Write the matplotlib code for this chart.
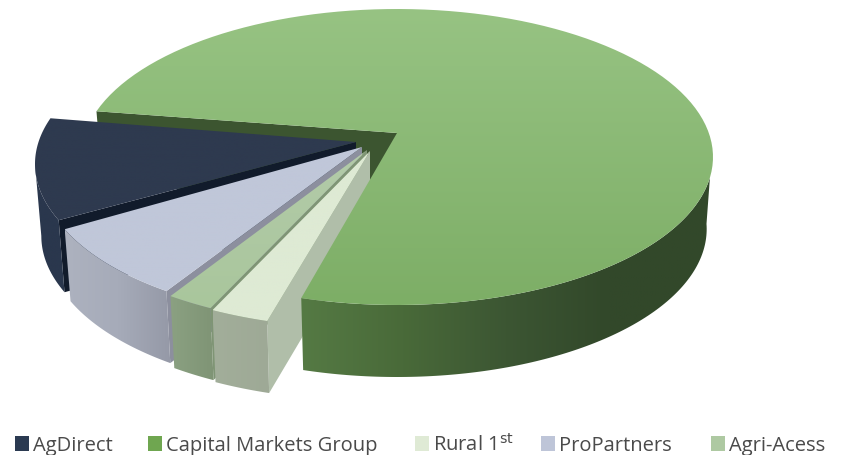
import matplotlib
matplotlib.use("Agg")
import matplotlib.pyplot as plt
from matplotlib.colors import LinearSegmentedColormap
from matplotlib.patches import Polygon, Rectangle
import numpy as np

# shares in drawing order, clockwise from the back left edge
names = ['Capital Markets Group', 'Rural 1$^{\\mathrm{st}}$', 'Agri-Acess', 'ProPartners', 'AgDirect']
shares = [74.9, 3.0, 2.4, 8.5, 11.2]

start_angle = 162.0
rx, ry = 316, 148
depth = 72
bottom_scale = 0.98

# per slice: rim centre, apex (the pie is tilted, so they differ)
centres = [(397, 158), (363, 181), (361, 179), (357, 174), (351, 165)]
apexes = [(397, 134), (370, 152), (367, 151), (362, 148), (356, 143)]

top_cols = [['#97c383', '#7dae66'], ['#deead4', '#deead4'], ['#b3cba9', '#a9c69c'],
            ['#c0c7d9', '#c0c7d9'], ['#2e3a4f', '#2e3a4f']]
wall_cols = [['#557a44', '#496a39', '#3c5633', '#32482a', '#32482a'],
             ['#a2ae9a', '#9ea996'], ['#8ba182', '#7f9475'],
             ['#adb2bf', '#a6abb9', '#9599a7'], ['#2a374d', '#2a374d']]
face_cols = ['#3c5530', '#b0bea9', '#7f9575', '#8c8f9e', '#111b2b']

# legend order and placement
legend_names = ['AgDirect', 'Capital Markets Group', 'Rural 1$^{\\mathrm{st}}$', 'ProPartners', 'Agri-Acess']
legend_cols = ['#2b3a51', '#6fa650', '#dfead5', '#bec5d8', '#aec9a2']
legend_x = [15, 148, 415, 541, 711]

plt.rcParams['font.family'] = ['Open Sans', 'DejaVu Sans']
plt.rcParams['mathtext.default'] = 'regular'

fig = plt.figure(figsize=(8.5, 4.56), dpi=100)
ax = fig.add_axes([0, 0, 1, 1])


def rim(centre, a0, a1, scale=1.0, drop=0):
    t = np.radians(np.linspace(a0, a1, 120))
    x = centre[0] + rx * scale * np.cos(t)
    y = centre[1] + drop - ry * np.sin(t)
    return np.column_stack([x, y])


def gradient_fill(points, colors, horizontal, zorder):
    # image of the gradient, clipped by the polygon
    cmap = LinearSegmentedColormap.from_list('g', colors)
    ramp = np.linspace(0, 1, 256)
    ramp = ramp[np.newaxis, :] if horizontal else ramp[:, np.newaxis]
    x0, y0 = points.min(axis=0)
    x1, y1 = points.max(axis=0)
    im = ax.imshow(ramp, cmap=cmap, extent=(x0, x1, y1, y0), aspect='auto', zorder=zorder)
    clip = Polygon(points, closed=True, transform=ax.transData, facecolor='none', edgecolor='none')
    ax.add_patch(clip)
    im.set_clip_path(clip)


def cut_face(i, angle, zorder):
    # flat side along the edge of a slice, from rim to apex
    centre, apex = centres[i], apexes[i]
    e_top = rim(centre, angle, angle)[0]
    e_low = rim(centre, angle, angle, bottom_scale, depth)[0]
    face = [e_top, apex, (apex[0], apex[1] + depth), e_low]
    ax.add_patch(Polygon(face, closed=True, facecolor=face_cols[i], edgecolor='none', zorder=zorder))


def wall_and_top(i, a0, a1, up0, low0, up1, low1, zorder):
    upper = rim(centres[i], up0, up1)
    lower = rim(centres[i], low0, low1, bottom_scale, depth)
    gradient_fill(np.vstack([upper, lower[::-1]]), wall_cols[i], True, zorder)
    top = np.vstack([[apexes[i]], rim(centres[i], a0, a1)])
    gradient_fill(top, top_cols[i], False, zorder + 0.2)


# clockwise angle ranges from the shares
sweeps = np.array(shares) / sum(shares) * 360
ends = start_angle - np.cumsum(sweeps)
starts = np.concatenate([[start_angle], ends[:-1]])

# big slice: cut face sits behind everything, its wall and top in front
cut_face(0, start_angle, 1)

# navy wall only shows below its leftmost point
cut_face(4, starts[4], 2)
wall_and_top(4, starts[4], ends[4], starts[4], starts[4], -180, -180, 2.1)

for order, i in enumerate([3, 2, 1]):
    z = 3 + order
    cut_face(i, starts[i], z)
    wall_and_top(i, starts[i], ends[i], starts[i], starts[i], ends[i], ends[i], z + 0.1)

wall_and_top(0, starts[0], ends[0], ends[0], ends[0], -8, 2, 7)

# legend
for name, col, x in zip(legend_names, legend_cols, legend_x):
    ax.add_patch(Rectangle((x, 437), 14, 15, facecolor=col, edgecolor='none', zorder=10))
    ax.text(x + 18, 451, name, fontsize=14.5, color='#4a4a4a', ha='left', va='baseline', zorder=10)

ax.set_xlim(0, 850)
ax.set_ylim(456, 0)
ax.axis('off')

fig.savefig('out.png', dpi=100)
